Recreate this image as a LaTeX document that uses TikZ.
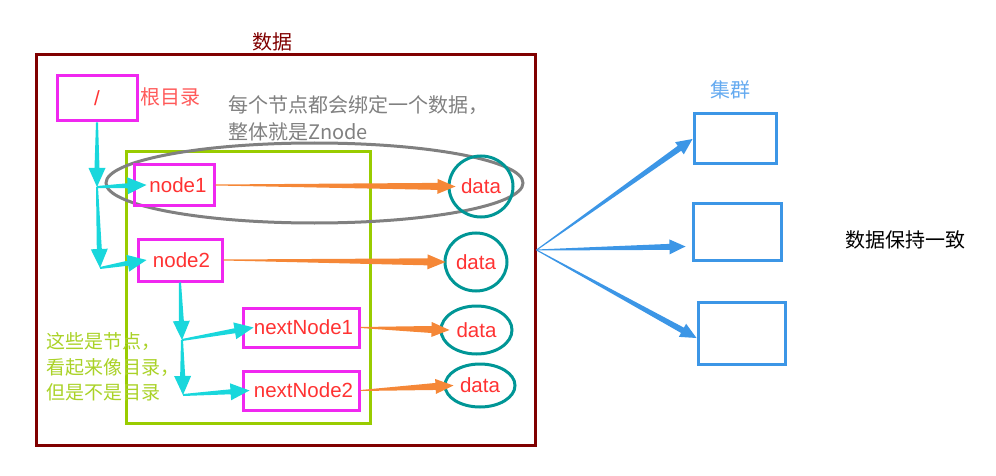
\documentclass[tikz,border=0pt]{standalone}
\usepackage{fontspec}
\setmainfont{Liberation Sans}
\newfontfamily\cjk{Noto Sans CJK SC}
\usetikzlibrary{calc,shapes.geometric}
\definecolor{zkred}{RGB}{128,0,0}
\definecolor{nodemag}{RGB}{240,40,240}
\definecolor{labelred}{RGB}{255,50,50}
\definecolor{rootred}{RGB}{255,90,90}
\definecolor{treecyan}{RGB}{25,215,220}
\definecolor{leafgreen}{RGB}{153,204,0}
\definecolor{leaftext}{RGB}{170,210,40}
\definecolor{datateal}{RGB}{0,150,150}
\definecolor{linkorange}{RGB}{245,135,55}
\definecolor{clusterblue}{RGB}{60,150,230}
\definecolor{clustertext}{RGB}{100,170,240}
\colorlet{notegray}{black!50}
\tikzset{
    taper/.style n args={4}{to path={let \p1=(\tikztostart), \p2=(\tikztotarget),
        \n1={atan2(\y2-\y1,\x2-\x1)} in
        -- ($(\p1)+({\n1+90}:#1)$)
        -- ($(\p2)!#4!(\p1)+({\n1+90}:#2)$)
        -- ($(\p2)!#4!(\p1)+({\n1+90}:#3)$)
        -- (\p2)
        -- ($(\p2)!#4!(\p1)+({\n1-90}:#3)$)
        -- ($(\p2)!#4!(\p1)+({\n1-90}:#2)$)
        -- ($(\p1)+({\n1-90}:#1)$)
        -- cycle}},
    treearr/.style={fill=treecyan,taper={1pt}{2.5pt}{8.5pt}{19pt}},
    linkarr/.style={fill=linkorange,taper={0.5pt}{3.5pt}{7.5pt}{18pt}},
    syncarr/.style={fill=clusterblue,taper={0.5pt}{3pt}{7.5pt}{16pt}},
    treebox/.style={draw=nodemag,line width=3pt,inner sep=0pt,text=labelred,font=\fontsize{20.5}{22}\selectfont},
    dataell/.style={ellipse,draw=datateal,line width=3pt,inner sep=0pt,text=labelred,font=\fontsize{20.5}{22}\selectfont},
    clusterbox/.style={draw=clusterblue,line width=3pt,inner sep=0pt},
    cjktext/.style={inner sep=0pt,align=left,font=\cjk\fontsize{20}{27}\selectfont}
}
\begin{document}
\begin{tikzpicture}[x=1pt,y=-1pt]
    \useasboundingbox (0,0) rectangle (996,476);
    \node [draw=zkred,line width=3pt,minimum width=499pt,minimum height=390pt] (zk) at (285.5,250) {};
    \node [cjktext,text=zkred] (zklabel) at (272,42) {数据};
    \node [draw=leafgreen,line width=3pt,minimum width=244pt,minimum height=271pt] (leaves) at (248,287.5) {};
    \draw [notegray,line width=3pt] (314.5,183) ellipse (208.5pt and 40pt);
    \node [cjktext,text=notegray,anchor=west] (znode) at (228,118) {每个节点都会绑定一个数据，\\整体就是Znode};
    \node [cjktext,text=leaftext,anchor=west,font=\cjk\fontsize{19}{25.5}\selectfont] (leafnote) at (46,367) {这些是节点，\\看起来像目录，\\但是不是目录};

    \node [treebox,minimum width=80pt,minimum height=45pt] (root) at (97,98.5) {/};
    \node [cjktext,text=rootred,anchor=west] (rootlabel) at (140,97) {根目录};
    \node [treebox,minimum width=80pt,minimum height=40pt] (n1) at (174,185) {\hspace{8pt}node1};
    \node [treebox,minimum width=84pt,minimum height=42pt] (n2) at (180,260) {\hspace{3pt}node2};
    \node [treebox,minimum width=116pt,minimum height=39pt] (nn1) at (301,327.5) {\hspace{5pt}nextNode1};
    \node [treebox,minimum width=116pt,minimum height=39pt] (nn2) at (301,390.5) {\hspace{5pt}nextNode2};

    \node [dataell,minimum width=64pt,minimum height=61pt] (d1) at (481,186.5) {data};
    \node [dataell,minimum width=62pt,minimum height=58pt] (d2) at (476,262) {data};
    \node [dataell,minimum width=71pt,minimum height=48pt] (d3) at (476.5,330) {data};
    \node [dataell,minimum width=70pt,minimum height=43pt] (d4) at (480,385.5) {data};

    \coordinate (j1) at (97,187);
    \coordinate (j2) at (100,268);
    \coordinate (j3) at (182,340);
    \coordinate (j4) at (183,395);
    \path [treearr] (root.south) to (j1);
    \path [treearr] (j1) to ([xshift=14pt]n1.west);
    \path [treearr] (j1) to (j2);
    \path [treearr] (j2) to ([xshift=10pt]n2.west);
    \path [treearr] (n2.south) to (j3);
    \path [treearr] (j3) to ([xshift=12pt]nn1.west);
    \path [treearr] (j3) to (j4);
    \path [treearr] (j4) to ([xshift=8pt]nn2.west);

    \path [linkarr] (n1.east) to ([xshift=8pt]d1.west);
    \path [linkarr] (n2.east) to ([xshift=2pt]d2.west);
    \path [linkarr] (nn1.east) to ([xshift=10pt]d3.west);
    \path [linkarr] (nn2.east) to ([xshift=10pt]d4.west);

    \node [cjktext,text=clustertext] (clusterlabel) at (730,90) {集群};
    \foreach \i/\x/\y/\w/\h in {1/735/139/82/50,2/737/231.5/88/57,3/741.5/333/87/62} {
        \node [clusterbox,minimum width=\w*1pt,minimum height=\h*1pt] (c\i) at (\x,\y) {};
    }
    \path [syncarr] (zk.east) to (c1.west);
    \path [syncarr] (zk.east) to ([xshift=-6pt,yshift=-15pt]c2.west);
    \path [syncarr] (zk.east) to ([yshift=-5pt]c3.west);
    \node [cjktext] (synclabel) at (905,240) {数据保持一致};
\end{tikzpicture}
\end{document}
